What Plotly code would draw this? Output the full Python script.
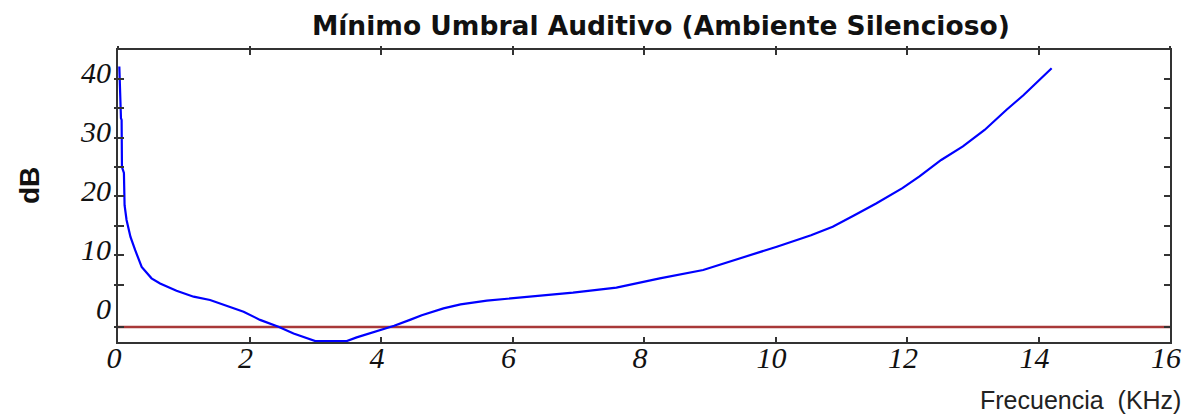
import plotly.graph_objects as go

# ---- data ----
freq_khz = [0.02, 0.03, 0.045, 0.055, 0.06, 0.09, 0.10, 0.13, 0.19, 0.26, 0.36, 0.51,
            0.64, 0.89, 1.15, 1.40, 1.65, 1.91, 2.16, 2.44, 2.67, 2.92, 3.00, 3.20,
            3.48, 3.63, 3.93, 4.20, 4.44, 4.62, 4.95, 5.21, 5.61, 6.26, 6.92, 7.58,
            8.24, 8.90, 9.56, 10.02, 10.54, 10.87, 11.20, 11.53, 11.93, 12.19, 12.52,
            12.85, 13.18, 13.51, 13.77, 14.20]
umbral_db = [42.1, 36.0, 33.3, 33.0, 25.0, 24.0, 18.5, 16.0, 13.1, 10.9, 8.0, 6.07,
             5.2, 3.97, 2.95, 2.38, 1.36, 0.4, -1.0, -2.15, -3.3, -4.3, -4.6, -4.6,
             -4.6, -3.97, -3.0, -2.0, -1.0, -0.2, 0.96, 1.64, 2.27, 2.95, 3.63, 4.48,
             6.07, 7.48, 9.75, 11.45, 13.4, 14.85, 16.8, 18.8, 21.4, 23.4, 26.2,
             28.5, 31.3, 34.7, 37.2, 41.8]

ref_khz = [0, 16]
ref_db = [-2.2, -2.2]

x_ticks = [0, 2, 4, 6, 8, 10, 12, 14, 16]
x_tick_text = ["0", "2", "4", "6", "8", "10", "12", "14", "16"]
y_tick_marks = [-2.2, 5, 10, 15, 20, 25, 30, 35, 40]
y_label_vals = [0, 10, 20, 30, 40]
y_label_text = ["0", "10", "20", "30", "40"]

x_range = [0, 16]
y_range = [-4.76, 44.9]

title_text = "Mínimo Umbral Auditivo (Ambiente Silencioso)"
y_title = "dB"
x_title = "Frecuencia  (KHz)"

AX = "#333333"
tick_font = dict(family="Liberation Serif", size=30, color="#111111", style="italic")

fig = go.Figure()
fig.add_trace(go.Scatter(x=ref_khz, y=ref_db, mode="lines",
                         line=dict(color="#a83838", width=2.5), showlegend=False,
                         hoverinfo="skip"))
fig.add_trace(go.Scatter(x=freq_khz, y=umbral_db, mode="lines",
                         line=dict(color="#0000ff", width=2.2), showlegend=False))
# empty traces to activate helper axes
fig.add_trace(go.Scatter(x=[], y=[], xaxis="x2", yaxis="y2", showlegend=False))
fig.add_trace(go.Scatter(x=[], y=[], xaxis="x", yaxis="y3", showlegend=False))

fig.update_layout(
    width=1182, height=407,
    margin=dict(l=110, r=20, t=42, b=73, autoexpand=False),
    paper_bgcolor="white", plot_bgcolor="white",
    title=dict(text=title_text, x=0.516, xref="paper", xanchor="center",
               y=0.956, yanchor="middle",
               font=dict(family="DejaVu Sans", size=26.5, color="#111111", weight="bold")),
    xaxis=dict(range=x_range, tickvals=x_ticks, ticktext=x_tick_text,
               ticks="inside", ticklen=5, tickwidth=2, tickcolor=AX,
               showline=True, linecolor=AX, linewidth=2, mirror="ticks",
               showgrid=False, zeroline=False, tickfont=tick_font,
               ticklabelstandoff=-12, ticklabelshift=-4, automargin=False),
    xaxis2=dict(range=x_range, tickvals=x_ticks, overlaying="x", side="top",
                anchor="y", ticks="outside", ticklen=3, tickwidth=2, tickcolor=AX,
                showline=False, showgrid=False, zeroline=False, showticklabels=False,
                automargin=False),
    yaxis=dict(range=y_range, tickvals=y_tick_marks, ticks="inside", ticklen=6,
               tickwidth=2, tickcolor=AX, showline=True, linecolor=AX, linewidth=2,
               mirror="ticks", showgrid=False, zeroline=False, showticklabels=False,
               automargin=False),
    yaxis2=dict(range=y_range, tickvals=y_tick_marks, overlaying="y", side="left",
                anchor="x", ticks="outside", ticklen=3, tickwidth=2, tickcolor=AX,
                showline=False, showgrid=False, zeroline=False, showticklabels=False,
                automargin=False),
    yaxis3=dict(range=y_range, tickvals=y_label_vals, ticktext=y_label_text,
                overlaying="y", side="left", anchor="x", ticks="outside", ticklen=3,
                tickcolor="rgba(0,0,0,0)", showline=False, showgrid=False,
                zeroline=False, tickfont=tick_font, ticklabelshift=-6,
                ticklabelstandoff=-3, automargin=False),
    annotations=[
        dict(text=y_title, xref="paper", yref="paper", x=-0.0846, y=0.534,
             xanchor="center", yanchor="middle", textangle=-90, showarrow=False,
             font=dict(family="Liberation Sans", size=28, color="#111111",
                       weight="bold")),
        dict(text=x_title, xref="paper", yref="paper", x=1.0124, y=-0.197,
             xanchor="right", yanchor="middle", showarrow=False,
             font=dict(family="Liberation Sans", size=25, color="#222222")),
    ],
)

fig.write_html("out.html")
